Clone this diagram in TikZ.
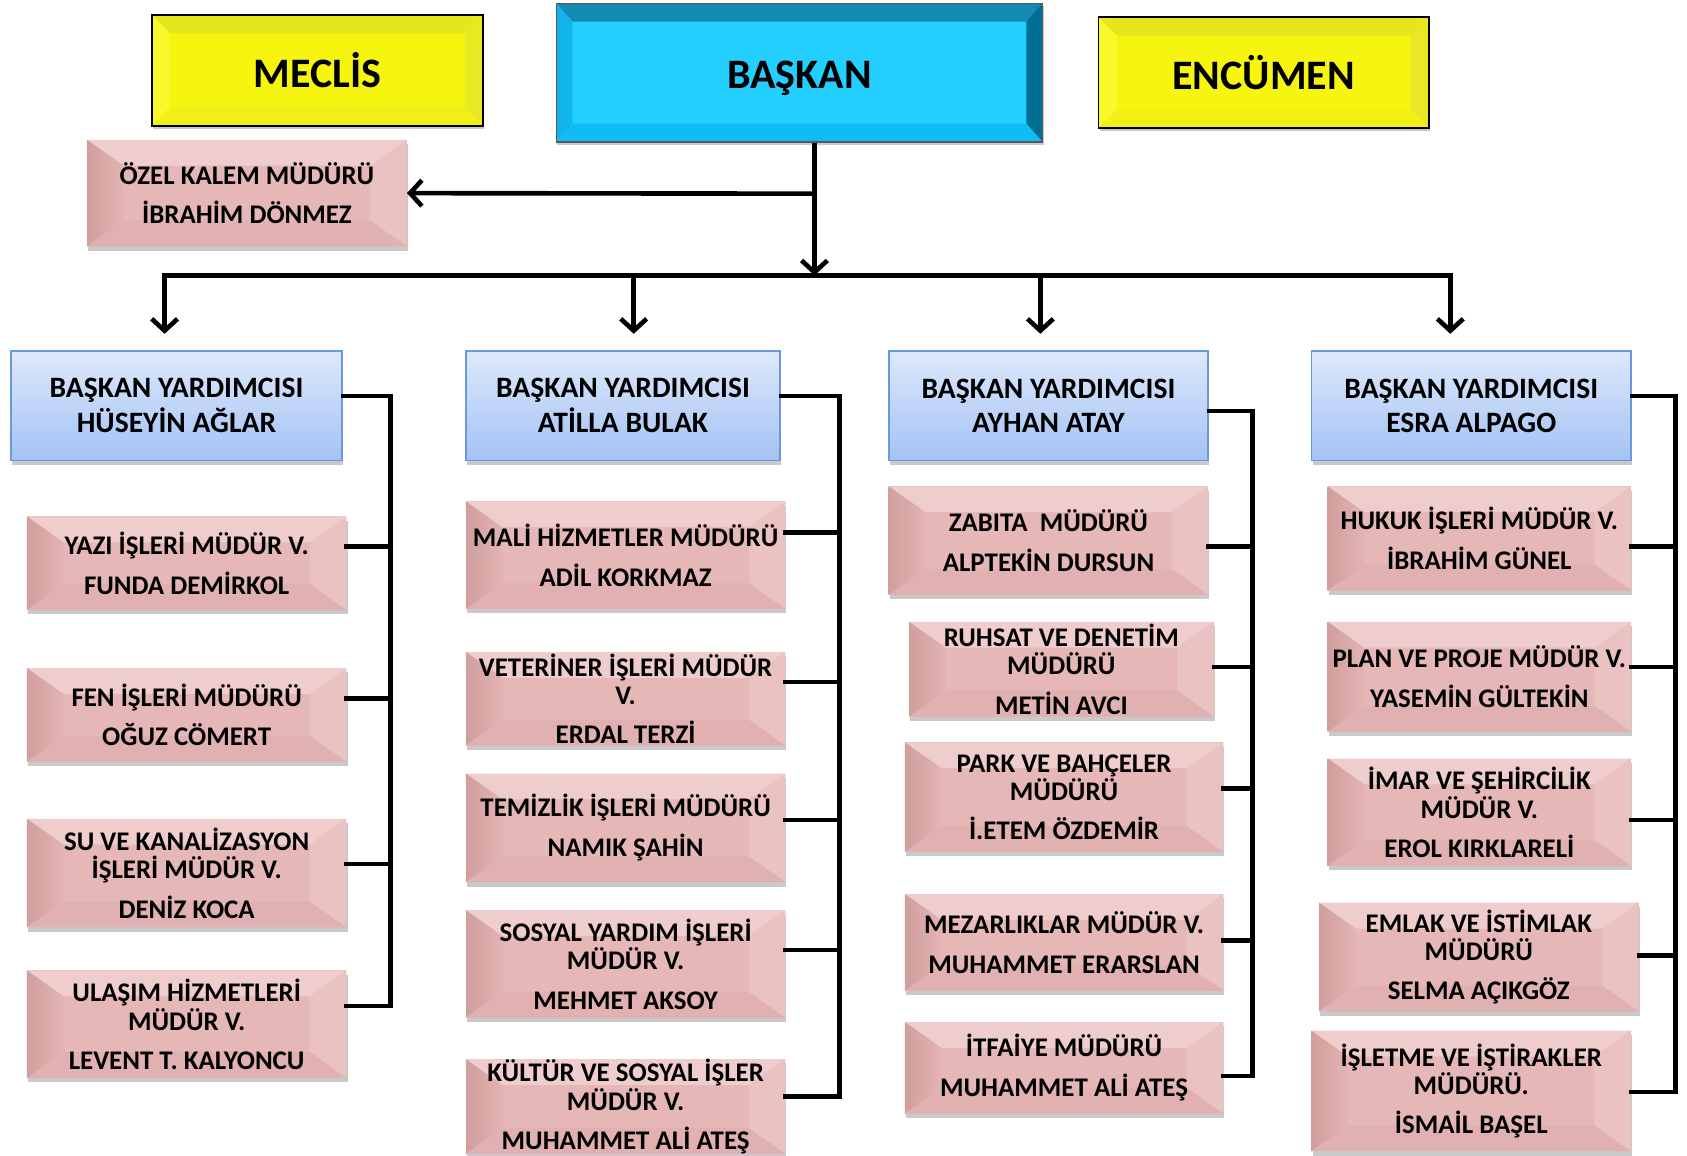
\documentclass[tikz,border=0pt]{standalone}
\usepackage{fontspec}
\setmainfont{Carlito}
\usetikzlibrary{calc,shadows,arrows.meta}
\definecolor{pinkbase}{HTML}{E5B8B7}
\definecolor{pinktop}{HTML}{EFCDCC}
\definecolor{pinkleftA}{HTML}{CF9E9D}
\definecolor{pinkleftB}{HTML}{E3B4B3}
\definecolor{pinkright}{HTML}{EAC2C1}
\definecolor{pinkbot}{HTML}{E0B1B0}
\definecolor{bluetop}{HTML}{DDE9FC}
\definecolor{bluebot}{HTML}{A3C2F4}
\definecolor{blueline}{HTML}{6A98DA}
\definecolor{yel}{HTML}{F5F510}
\definecolor{yeltop}{HTML}{E6E61E}
\definecolor{yelleft}{HTML}{F9F92A}
\definecolor{yelright}{HTML}{E8E824}
\definecolor{yelbot}{HTML}{F0F016}
\definecolor{cyanface}{HTML}{22CFFF}
\definecolor{cyantop}{HTML}{1489B2}
\definecolor{cyanright}{HTML}{006E93}
\definecolor{cyanleft}{HTML}{12B4EC}
\definecolor{cyanbot}{HTML}{10BCF6}
\newcommand\mybevel[6]{%
 \coordinate (bvNW) at (path picture bounding box.north west);
 \coordinate (bvNE) at (path picture bounding box.north east);
 \coordinate (bvSW) at (path picture bounding box.south west);
 \coordinate (bvSE) at (path picture bounding box.south east);
 \coordinate (bvnw) at ($(bvNW)+(#1,#2)$);
 \coordinate (bvne) at ($(bvNE)+(-#1,#2)$);
 \coordinate (bvsw) at ($(bvSW)+(#1,-#2)$);
 \coordinate (bvse) at ($(bvSE)+(-#1,-#2)$);
 \path[#3] (bvNW)--(bvNE)--(bvne)--(bvnw)--cycle;
 \path[#4] (bvNW)--(bvnw)--(bvsw)--(bvSW)--cycle;
 \path[#5] (bvNE)--(bvne)--(bvse)--(bvSE)--cycle;
 \path[#6] (bvSW)--(bvsw)--(bvse)--(bvSE)--cycle;
}
\tikzset{
 pinkbox/.style={fill=pinkbase, inner sep=0pt, align=center,
   drop shadow={shadow xshift=1pt, shadow yshift=-4pt, fill=black!60, opacity=0.35},
   path picture={\mybevel{34}{24}{fill=pinktop}{left color=pinkleftA,right color=pinkleftB}{fill=pinkright}{fill=pinkbot}},
   font=\fontsize{25}{37}\selectfont\bfseries},
 pinkthree/.style={pinkbox, font=\fontsize{25}{26.5}\selectfont\bfseries},
 bluebox/.style={top color=bluetop, bottom color=bluebot, draw=blueline, line width=1.5pt,
   align=center, inner sep=0pt,
   drop shadow={shadow xshift=1pt, shadow yshift=-4pt, fill=black!60, opacity=0.35},
   minimum height=102pt, font=\fontsize{27.5}{32}\selectfont\bfseries},
 yelbox/.style={fill=yel, draw=black, line width=1.5pt, inner sep=0pt,
   drop shadow={shadow xshift=1pt, shadow yshift=-3pt, fill=black!60, opacity=0.35},
   path picture={\mybevel{17}{17}{fill=yeltop}{fill=yelleft}{fill=yelright}{fill=yelbot}},
   font=\fontsize{39}{44}\selectfont\bfseries},
 cyanbox/.style={fill=cyanface, draw=black!65, line width=1pt, inner sep=0pt,
   drop shadow={shadow xshift=1pt, shadow yshift=-3pt, fill=black!60, opacity=0.35},
   path picture={\mybevel{15}{17}{fill=cyantop}{fill=cyanleft}{fill=cyanright}{fill=cyanbot}},
   font=\fontsize{39}{44}\selectfont\bfseries},
 conn/.style={line width=4.3pt, line cap=rect, line join=miter},
 arr/.style={line cap=butt, -{Straight Barb[length=11pt,width=24pt]}},
}
\begin{document}
\begin{tikzpicture}[x=1pt,y=-1pt]
\useasboundingbox[fill=white] (0,0) rectangle (1568,1074);

% top row
\node[yelbox, minimum width=308pt, minimum height=103pt] (meclis) at (295,65.5) {MECLİS};
\node[cyanbox, minimum width=452pt, minimum height=129pt] (baskan) at (743,67.5) {\raisebox{-2pt}[\height][0pt]{BAŞKAN}};
\node[yelbox, minimum width=307pt, minimum height=103pt] (encumen) at (1174.5,67.5) {ENCÜMEN};
\node[pinkbox, minimum width=297pt, minimum height=99pt] (ozel) at (229.5,179.5) {ÖZEL KALEM MÜDÜRÜ\\İBRAHİM DÖNMEZ};

% deputies
\node[bluebox, minimum width=308pt] (by1) at (164,377) {BAŞKAN YARDIMCISI\\HÜSEYİN AĞLAR};
\node[bluebox, minimum width=292pt] (by2) at (579,377) {BAŞKAN YARDIMCISI\\ATİLLA BULAK};
\node[bluebox, minimum width=297pt] (by3) at (974.5,377) {BAŞKAN YARDIMCISI\\AYHAN ATAY};
\node[bluebox, minimum width=297pt] (by4) at (1367.5,377) {BAŞKAN YARDIMCISI\\ESRA ALPAGO};

% column 1
\node[pinkbox, minimum width=297pt, minimum height=87pt] (yazi) at (173.5,523.5) {YAZI İŞLERİ MÜDÜR V.\\FUNDA DEMİRKOL};
\node[pinkbox, minimum width=297pt, minimum height=87pt] (fen) at (173.5,664.5) {FEN İŞLERİ MÜDÜRÜ\\OĞUZ CÖMERT};
\node[pinkthree, minimum width=297pt, minimum height=101pt] (su) at (173.5,811.5) {SU VE KANALİZASYON\\İŞLERİ MÜDÜR V.\\[10pt]DENİZ KOCA};
\node[pinkthree, minimum width=297pt, minimum height=100pt] (ulasim) at (173.5,952) {ULAŞIM HİZMETLERİ\\MÜDÜR V.\\[10pt]LEVENT T. KALYONCU};

% column 2
\node[pinkbox, minimum width=297pt, minimum height=100pt] (mali) at (581.5,516) {MALİ HİZMETLER MÜDÜRÜ\\ADİL KORKMAZ};
\node[pinkthree, minimum width=297pt, minimum height=87pt] (veteriner) at (581.5,649.5) {VETERİNER İŞLERİ MÜDÜR\\V.\\[10pt]ERDAL TERZİ};
\node[pinkbox, minimum width=297pt, minimum height=101pt] (temizlik) at (581.5,769.5) {TEMİZLİK İŞLERİ MÜDÜRÜ\\NAMIK ŞAHİN};
\node[pinkthree, minimum width=297pt, minimum height=100pt] (sosyal) at (581.5,896) {SOSYAL YARDIM İŞLERİ\\MÜDÜR V.\\[10pt]MEHMET AKSOY};
\node[pinkthree, minimum width=297pt, minimum height=87pt] (kultur) at (581.5,1028.5) {KÜLTÜR VE SOSYAL İŞLER\\MÜDÜR V.\\[10pt]MUHAMMET ALİ ATEŞ};

% column 3
\node[pinkbox, minimum width=297pt, minimum height=101pt] (zabita) at (974.5,502.5) {ZABITA\ \ MÜDÜRÜ\\ALPTEKİN DURSUN};
\node[pinkthree, minimum width=283pt, minimum height=88pt] (ruhsat) at (986.5,622) {RUHSAT VE DENETİM\\MÜDÜRÜ\\[10pt]METİN AVCI};
\node[pinkthree, minimum width=296pt, minimum height=102pt] (park) at (989,741) {PARK VE BAHÇELER\\MÜDÜRÜ\\[10pt]İ.ETEM ÖZDEMİR};
\node[pinkbox, minimum width=296pt, minimum height=90pt] (mezar) at (989,876) {MEZARLIKLAR MÜDÜR V.\\MUHAMMET ERARSLAN};
\node[pinkbox, minimum width=296pt, minimum height=85pt] (itfaiye) at (989,992.5) {İTFAİYE MÜDÜRÜ\\MUHAMMET ALİ ATEŞ};

% column 4
\node[pinkbox, minimum width=282pt, minimum height=97pt] (hukuk) at (1375,500.5) {HUKUK İŞLERİ MÜDÜR V.\\İBRAHİM GÜNEL};
\node[pinkbox, minimum width=282pt, minimum height=102pt] (plan) at (1375,629) {PLAN VE PROJE MÜDÜR V.\\YASEMİN GÜLTEKİN};
\node[pinkthree, minimum width=282pt, minimum height=100pt] (imar) at (1375,755) {İMAR VE ŞEHİRCİLİK\\MÜDÜR V.\\[10pt]EROL KIRKLARELİ};
\node[pinkthree, minimum width=297pt, minimum height=101pt] (emlak) at (1374.5,889.5) {EMLAK VE İSTİMLAK\\MÜDÜRÜ\\[10pt]SELMA AÇIKGÖZ};
\node[pinkthree, minimum width=297pt, minimum height=112pt] (isletme) at (1367.5,1014) {İŞLETME VE İŞTİRAKLER\\MÜDÜRÜ.\\[10pt]İSMAİL BAŞEL};

% main connectors
\coordinate (bar) at (757,256);
\coordinate (oz) at (757,180);
\draw[conn,arr] (baskan.south -| bar) -- (bar);
\draw[conn,arr] (oz) -- (ozel.east);
\coordinate (d1) at (153,256);
\coordinate (d2) at (589,256);
\coordinate (d3) at (967,256);
\coordinate (d4) at (1348,256);
\draw[conn] (d1) -- (d4);
\draw[conn,arr,shorten >=15pt] (d1) -- (d1 |- by1.north);
\draw[conn,arr,shorten >=15pt] (d2) -- (d2 |- by2.north);
\draw[conn,arr,shorten >=15pt] (d3) -- (d3 |- by3.north);
\draw[conn,arr,shorten >=15pt] (d4) -- (d4 |- by4.north);

% column 1 connectors
\coordinate (c1t) at (363,368);
\coordinate (c1b) at (363,935);
\coordinate (c1a) at (363,508);
\coordinate (c1f) at (363,649);
\coordinate (c1s) at (363,803);
\draw[conn] (by1.east |- c1t) -- (c1t) -- (c1b) -- (ulasim.east |- c1b);
\draw[conn] (yazi.east |- c1a) -- (c1a);
\draw[conn] (fen.east |- c1f) -- (c1f);
\draw[conn] (su.east |- c1s) -- (c1s);

% column 2 connectors
\coordinate (c2t) at (780,368);
\coordinate (c2b) at (780,1019);
\coordinate (c2m) at (780,495);
\coordinate (c2v) at (780,634);
\coordinate (c2e) at (780,762);
\coordinate (c2s) at (780,883);
\draw[conn] (by2.east |- c2t) -- (c2t) -- (c2b) -- (kultur.east |- c2b);
\draw[conn] (mali.east |- c2m) -- (c2m);
\draw[conn] (veteriner.east |- c2v) -- (c2v);
\draw[conn] (temizlik.east |- c2e) -- (c2e);
\draw[conn] (sosyal.east |- c2s) -- (c2s);

% column 3 connectors
\coordinate (c3t) at (1164,382);
\coordinate (c3b) at (1164,1000);
\coordinate (c3z) at (1164,508);
\coordinate (c3r) at (1164,620);
\coordinate (c3p) at (1164,733);
\coordinate (c3m) at (1164,874);
\draw[conn] (by3.east |- c3t) -- (c3t) -- (c3b) -- (itfaiye.east |- c3b);
\draw[conn] (zabita.east |- c3z) -- (c3z);
\draw[conn] (ruhsat.east |- c3r) -- (c3r);
\draw[conn] (park.east |- c3p) -- (c3p);
\draw[conn] (mezar.east |- c3m) -- (c3m);

% column 4 connectors
\coordinate (c4t) at (1557,368);
\coordinate (c4b) at (1557,1015);
\coordinate (c4h) at (1557,508);
\coordinate (c4p) at (1557,620);
\coordinate (c4i) at (1557,762);
\coordinate (c4e) at (1557,888);
\draw[conn] (by4.east |- c4t) -- (c4t) -- (c4b) -- (isletme.east |- c4b);
\draw[conn] (hukuk.east |- c4h) -- (c4h);
\draw[conn] (plan.east |- c4p) -- (c4p);
\draw[conn] (imar.east |- c4i) -- (c4i);
\draw[conn] (emlak.east |- c4e) -- (c4e);
\end{tikzpicture}
\end{document}
